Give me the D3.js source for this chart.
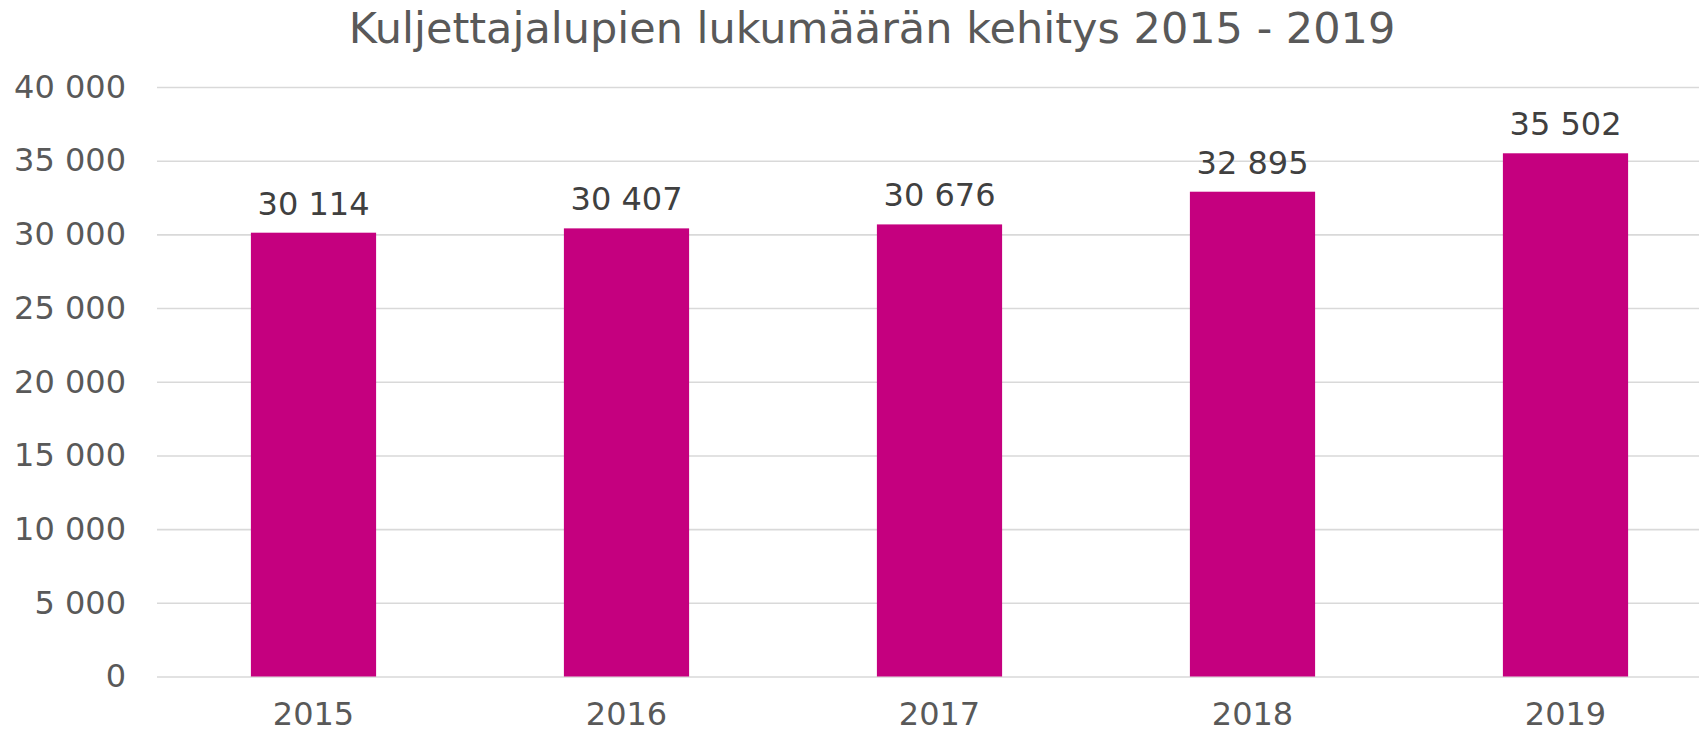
<!DOCTYPE html>
<html>
<head>
<meta charset="utf-8">
<script src="https://cdn.jsdelivr.net/npm/d3@7"></script>
<style>
  body { margin: 0; background: #fff; }
  svg { display: block; font-family: "DejaVu Sans", Verdana, sans-serif; }
</style>
</head>
<body>
<svg id="chart" width="1699" height="735"></svg>
<script>
const title = "Kuljettajalupien lukumäärän kehitys 2015 - 2019";
const years = ["2015", "2016", "2017", "2018", "2019"];
const licences = [30114, 30407, 30676, 32895, 35502];
const yTicks = [0, 5000, 10000, 15000, 20000, 25000, 30000, 35000, 40000];

const svg = d3.select("#chart");
const fmt = v => d3.format(",")(v).replace(/,/g, " ");

// plot area (right side runs past the picture edge, as in the original)
const x = d3.scaleBand()
  .domain(years)
  .range([157, 1722])
  .paddingInner(0.6)
  .paddingOuter(0.3);

const y = d3.scaleLinear()
  .domain([0, 40000])
  .range([676.5, 87]);

svg.append("text")
  .attr("x", 872)
  .attr("y", 43)
  .attr("text-anchor", "middle")
  .attr("fill", "#595959")
  .attr("font-size", 43)
  .text(title);

// gridlines + y labels
const yAxis = svg.append("g")
  .attr("transform", "translate(157,0)")
  .call(d3.axisLeft(y).tickValues(yTicks).tickSize(0).tickPadding(31).tickFormat(fmt));
yAxis.select(".domain").remove();
yAxis.selectAll("text")
  .attr("fill", "#595959")
  .attr("font-size", 32)
  .attr("font-family", "DejaVu Sans, Verdana, sans-serif");
yAxis.selectAll(".tick").append("line")
  .attr("x1", 0)
  .attr("x2", 1699 - 157)
  .attr("stroke", "#d9d9d9")
  .attr("stroke-width", 1.6);

// bars
svg.append("g").selectAll("rect")
  .data(licences)
  .join("rect")
  .attr("x", (d, i) => x(years[i]))
  .attr("width", x.bandwidth())
  .attr("y", d => y(d))
  .attr("height", d => y(0) - y(d))
  .attr("fill", "#c5007f");

// value labels
svg.append("g").selectAll("text")
  .data(licences)
  .join("text")
  .attr("x", (d, i) => x(years[i]) + x.bandwidth() / 2)
  .attr("y", d => y(d) - 18)
  .attr("text-anchor", "middle")
  .attr("fill", "#404040")
  .attr("font-size", 32)
  .text(fmt);

// x labels
const xAxis = svg.append("g")
  .attr("transform", "translate(0," + y(0) + ")")
  .call(d3.axisBottom(x).tickSize(0).tickPadding(26));
xAxis.select(".domain").remove();
xAxis.selectAll("text")
  .attr("fill", "#595959")
  .attr("font-size", 32)
  .attr("font-family", "DejaVu Sans, Verdana, sans-serif");
</script>
</body>
</html>
